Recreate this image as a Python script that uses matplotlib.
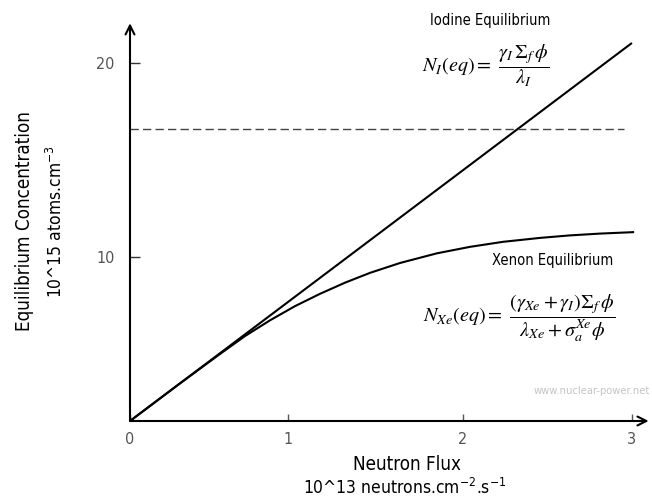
import matplotlib
matplotlib.use("Agg")
import matplotlib.pyplot as plt

plt.rcParams['font.family'] = ['DejaVu Sans']
plt.rcParams['font.stretch'] = 'condensed'

# neutron flux (10^13 n/cm2/s) and equilibrium concentrations (10^15 atoms/cm3)
iodine_flux = [0.0, 3.0]
iodine_conc = [0.0, 21.1]

xenon_flux = [0.0, 0.299, 0.538, 0.687, 0.837, 0.986, 1.136, 1.285, 1.435,
              1.614, 1.835, 2.032, 2.229, 2.451, 2.630, 2.809, 3.007]
xenon_conc = [0.0, 2.10, 3.74, 4.74, 5.62, 6.41, 7.10, 7.72, 8.27,
              8.82, 9.36, 9.72, 10.0, 10.22, 10.36, 10.46, 10.54]

# dashed reference level
ref_flux = [0.0, 2.95]
ref_conc = [16.32, 16.32]

xtick_pos = [0.0, 0.944, 1.99, 3.0]
xtick_labels = ['0', '1', '2', '3']
ytick_pos = [9.15, 20.0]
ytick_labels = ['10', '20']

W, H = 652, 504
fig = plt.figure(figsize=(W / 100, H / 100), dpi=100)
ax = fig.add_axes([130 / W, 83 / H, 522 / W, 399 / H])
ax.set_xlim(0, 3.12)
ax.set_ylim(0, 22.27)

for s in ax.spines.values():
    s.set_visible(False)

ax.plot(iodine_flux, iodine_conc, color='black', lw=1.5, solid_capstyle='butt')
ax.plot(xenon_flux, xenon_conc, color='black', lw=1.5)
ax.plot(ref_flux, ref_conc, color='#444444', lw=1.0, linestyle=(0, (6, 3)))

# axes drawn as arrows
arrow = dict(arrowstyle='->', lw=1.5, color='black', shrinkA=0, shrinkB=0,
             mutation_scale=16)
ax.annotate('', xy=(3.10, 0), xytext=(0, 0), arrowprops=arrow, annotation_clip=False)
ax.annotate('', xy=(0, 22.2), xytext=(0, 0), arrowprops=arrow, annotation_clip=False)

ax.set_xticks(xtick_pos, xtick_labels)
ax.set_yticks(ytick_pos, ytick_labels)
ax.tick_params(axis='x', direction='in', length=5, width=1, color='#555555',
               pad=8, labelsize=11.5, labelcolor='#555555')
ax.tick_params(axis='y', direction='in', length=7, width=1, color='#333333',
               pad=11, labelsize=11.5, labelcolor='#555555')


def px(x, y):
    return x / W, 1 - y / H


fig.text(*px(25, 221), 'Equilibrium Concentration', rotation=90,
         ha='center', va='center', fontsize=13.5)
fig.text(*px(56, 222), r'10^15 atoms.cm$^{\mathregular{-3}}$', rotation=90,
         ha='center', va='center', fontsize=12.5)
fig.text(*px(407, 465), 'Neutron Flux', ha='center', va='center', fontsize=13.5)
fig.text(*px(405, 488), r'10^13 neutrons.cm$^{\mathregular{-2}}$.s$^{\mathregular{-1}}$',
         ha='center', va='center', fontsize=12.5)

fig.text(*px(490, 20), 'Iodine Equilibrium', ha='center', va='center', fontsize=10.5)
fig.text(*px(486, 66), r'$N_I(eq) =\ \dfrac{\gamma_I\,\Sigma_f\,\phi}{\lambda_I}$',
         ha='center', va='center', fontsize=14.5, math_fontfamily='stix')

fig.text(*px(553, 261), 'Xenon Equilibrium', ha='center', va='center', fontsize=10.5)
fig.text(*px(519, 318),
         r'$N_{Xe}(eq) =\ \dfrac{(\gamma_{Xe}+\gamma_I)\Sigma_f\,\phi}{\lambda_{Xe}+\sigma_a^{Xe}\phi}$',
         ha='center', va='center', fontsize=14.5, math_fontfamily='stix')

fig.text(*px(650, 391), 'www.nuclear-power.net', ha='right', va='center',
         fontsize=8, color='#c4c4c4')

fig.savefig('out.png', dpi=100)
